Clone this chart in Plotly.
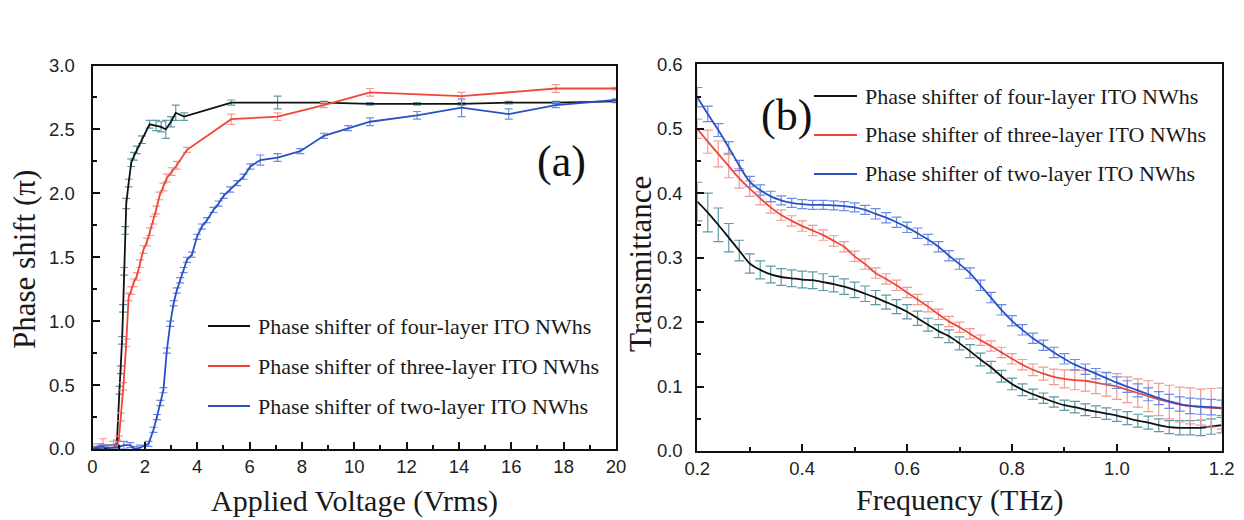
import plotly.graph_objects as go

# ---------------- Panel (a): phase shift vs applied voltage ----------------
volt_four = [0, 0.4, 0.8, 0.93, 1.03, 1.08, 1.13, 1.17, 1.21, 1.25, 1.29, 1.38, 1.48, 1.58, 1.69, 1.89,
             2.18, 2.43, 2.62, 2.80, 3.0, 3.18, 3.5, 5.3, 7.07, 8.84, 10.6, 12.4, 14.1, 15.9, 17.7, 20]
phase_four = [0.0, 0.0, 0.01, 0.04, 0.46, 0.62, 0.85, 1.10, 1.39, 1.71, 1.92, 2.08, 2.24, 2.29, 2.34, 2.42,
              2.54, 2.53, 2.52, 2.50, 2.56, 2.63, 2.60, 2.71, 2.71, 2.71, 2.70, 2.70, 2.70, 2.71, 2.71, 2.72]
err_four = [0.01, 0.01, 0.02, 0.03, 0.03, 0.03, 0.03, 0.03, 0.03, 0.03, 0.04, 0.03, 0.03, 0.03, 0.03, 0.03,
            0.03, 0.04, 0.04, 0.07, 0.04, 0.06, 0.03, 0.02, 0.05, 0.01, 0.01, 0.01, 0.01, 0.01, 0.01, 0.01]

volt_three = [0, 0.4, 0.8, 1.0, 1.08, 1.18, 1.29, 1.38, 1.48, 1.57, 1.69, 1.82, 1.95, 2.08, 2.2, 2.33,
              2.43, 2.56, 2.71, 2.84, 3.03, 3.22, 3.61, 5.3, 7.07, 8.84, 10.6, 14.1, 17.7, 20]
phase_three = [0.01, 0.03, 0.03, 0.06, 0.25, 0.49, 0.83, 1.19, 1.24, 1.30, 1.35, 1.45, 1.56, 1.62, 1.70, 1.79,
               1.87, 1.98, 2.05, 2.12, 2.17, 2.22, 2.34, 2.58, 2.60, 2.69, 2.79, 2.76, 2.82, 2.82]
err_three = [0.03, 0.05, 0.03, 0.04, 0.03, 0.03, 0.03, 0.03, 0.03, 0.03, 0.03, 0.03, 0.03, 0.03, 0.03, 0.03,
             0.03, 0.03, 0.03, 0.03, 0.03, 0.03, 0.02, 0.04, 0.03, 0.02, 0.03, 0.03, 0.03, 0.01]

volt_two = [0, 0.3, 0.6, 0.9, 1.2, 1.44, 1.6, 1.82, 2.14, 2.33, 2.46, 2.59, 2.71, 2.84, 2.97, 3.10, 3.22,
            3.35, 3.48, 3.61, 3.80, 3.99, 4.18, 4.37, 4.62, 4.82, 5.01, 5.26, 5.52, 5.77, 6.03, 6.41,
            7.07, 7.94, 8.84, 9.77, 10.6, 12.4, 14.1, 15.9, 17.7, 20]
phase_two = [0.0, 0.02, 0.01, 0.01, 0.03, 0.03, 0.0, 0.01, 0.04, 0.15, 0.25, 0.36, 0.46, 0.77, 0.98, 1.14, 1.24,
             1.32, 1.40, 1.48, 1.52, 1.66, 1.74, 1.79, 1.87, 1.92, 1.98, 2.03, 2.08, 2.13, 2.21, 2.26,
             2.28, 2.33, 2.45, 2.51, 2.56, 2.61, 2.67, 2.62, 2.69, 2.73]
err_two = [0.02, 0.02, 0.02, 0.02, 0.03, 0.02, 0.02, 0.02, 0.02, 0.02, 0.02, 0.02, 0.02, 0.02, 0.02, 0.02, 0.02,
           0.02, 0.02, 0.02, 0.02, 0.02, 0.02, 0.02, 0.02, 0.02, 0.02, 0.02, 0.02, 0.02, 0.02, 0.04,
           0.03, 0.02, 0.02, 0.02, 0.03, 0.03, 0.07, 0.04, 0.02, 0.01]

# ---------------- Panel (b): transmittance vs frequency ----------------
freq = [0.20, 0.22, 0.24, 0.26, 0.28, 0.30, 0.32, 0.34, 0.36, 0.38, 0.40, 0.42, 0.44, 0.46, 0.48,
        0.50, 0.52, 0.54, 0.56, 0.58, 0.60, 0.62, 0.64, 0.66, 0.68, 0.70, 0.72, 0.74, 0.76, 0.78,
        0.80, 0.82, 0.84, 0.86, 0.88, 0.90, 0.92, 0.94, 0.96, 0.98, 1.00, 1.02, 1.04, 1.06, 1.08,
        1.10, 1.12, 1.14, 1.16, 1.18, 1.20]

trans_four = [0.387, 0.370, 0.351, 0.331, 0.311, 0.291, 0.281, 0.274, 0.270, 0.268, 0.266, 0.265, 0.262, 0.259, 0.255,
              0.250, 0.244, 0.238, 0.231, 0.224, 0.216, 0.206, 0.196, 0.186, 0.178, 0.167, 0.155, 0.142, 0.130, 0.116,
              0.104, 0.095, 0.088, 0.082, 0.076, 0.071, 0.068, 0.064, 0.061, 0.058, 0.055, 0.051, 0.047, 0.044, 0.040,
              0.037, 0.036, 0.036, 0.036, 0.038, 0.040]
err_t_four = [0.030, 0.030, 0.026, 0.022, 0.016, 0.015, 0.014, 0.013, 0.013, 0.013, 0.013, 0.013, 0.013, 0.012, 0.012,
              0.012, 0.012, 0.011, 0.011, 0.011, 0.011, 0.011, 0.010, 0.010, 0.010, 0.010, 0.010, 0.010, 0.009, 0.009,
              0.009, 0.009, 0.008, 0.008, 0.008, 0.008, 0.009, 0.009, 0.009, 0.009, 0.009, 0.010, 0.010, 0.010, 0.010,
              0.010, 0.011, 0.011, 0.012, 0.012, 0.012]

trans_three = [0.500, 0.480, 0.461, 0.442, 0.423, 0.407, 0.392, 0.378, 0.366, 0.357, 0.349, 0.342, 0.335, 0.326, 0.317,
               0.302, 0.290, 0.276, 0.267, 0.257, 0.246, 0.235, 0.224, 0.212, 0.201, 0.192, 0.182, 0.172, 0.163, 0.153,
               0.143, 0.134, 0.126, 0.120, 0.115, 0.112, 0.110, 0.109, 0.106, 0.103, 0.100, 0.095, 0.090, 0.085, 0.080,
               0.076, 0.072, 0.070, 0.068, 0.067, 0.066]
err_t_three = [0.015, 0.018, 0.020, 0.018, 0.015, 0.012, 0.010, 0.009, 0.008, 0.008, 0.008, 0.008, 0.008, 0.008, 0.008,
               0.008, 0.008, 0.008, 0.008, 0.008, 0.008, 0.008, 0.008, 0.008, 0.008, 0.008, 0.008, 0.008, 0.008, 0.008,
               0.008, 0.008, 0.009, 0.010, 0.012, 0.014, 0.015, 0.016, 0.017, 0.018, 0.020, 0.020, 0.022, 0.024, 0.025,
               0.026, 0.027, 0.028, 0.028, 0.030, 0.032]

trans_two = [0.549, 0.523, 0.498, 0.471, 0.443, 0.418, 0.405, 0.395, 0.389, 0.385, 0.383, 0.382, 0.382, 0.381, 0.380,
             0.378, 0.374, 0.368, 0.362, 0.355, 0.347, 0.338, 0.328, 0.317, 0.303, 0.290, 0.276, 0.257, 0.238, 0.219,
             0.202, 0.188, 0.175, 0.164, 0.153, 0.143, 0.134, 0.127, 0.120, 0.113, 0.106, 0.100, 0.094, 0.088, 0.082,
             0.077, 0.073, 0.070, 0.069, 0.068, 0.067]
err_t_two = [0.015, 0.012, 0.010, 0.009, 0.008, 0.008, 0.008, 0.008, 0.007, 0.007, 0.007, 0.007, 0.007, 0.007, 0.007,
             0.007, 0.007, 0.008, 0.008, 0.008, 0.008, 0.008, 0.008, 0.008, 0.008, 0.008, 0.008, 0.008, 0.008, 0.008,
             0.008, 0.008, 0.008, 0.008, 0.008, 0.008, 0.008, 0.008, 0.008, 0.009, 0.009, 0.009, 0.010, 0.010, 0.010,
             0.011, 0.011, 0.012, 0.012, 0.012, 0.012]

legend_labels = ["Phase shifter of four-layer ITO NWhs",
                 "Phase shifter of three-layer ITO NWhs",
                 "Phase shifter of two-layer ITO NWhs"]
line_colors = ["#111111", "#f0463a", "#2b50c4"]
err_colors = ["#5f9aa6", "#f49a94", "#6a8ce6"]

W, H = 1244, 520
def px(x):
    return x / W
def py(y):
    return 1 - y / H

SERIF = "Liberation Serif, Times New Roman, serif"
SANS = "Liberation Sans, Arial, sans-serif"

fig = go.Figure()

panel_a = [(volt_four, phase_four, err_four), (volt_three, phase_three, err_three), (volt_two, phase_two, err_two)]
for i, (xs, ys, es) in enumerate(panel_a):
    fig.add_trace(go.Scatter(
        x=xs, y=ys, mode="lines", name=legend_labels[i], showlegend=False,
        line=dict(color=line_colors[i], width=1.8),
        error_y=dict(type="data", array=es, visible=True, color=err_colors[i], thickness=1.2, width=4),
        xaxis="x", yaxis="y"))

panel_b = [(trans_four, err_t_four), (trans_three, err_t_three), (trans_two, err_t_two)]
for i, (ys, es) in enumerate(panel_b):
    fig.add_trace(go.Scatter(
        x=freq, y=ys, mode="lines", name=legend_labels[i], showlegend=False,
        line=dict(color=line_colors[i], width=1.8, shape="spline", smoothing=1.0),
        error_y=dict(type="data", array=es, visible=True, color=err_colors[i], thickness=1.2, width=5),
        xaxis="x2", yaxis="y2"))

axis_common = dict(
    showline=True, linewidth=2, linecolor="#111111", mirror=True,
    showgrid=False, zeroline=False, automargin=False,
    ticks="inside", ticklen=7, tickwidth=1.5, tickcolor="#111111",
    tickfont=dict(family=SANS, size=18.5, color="#222222"),
)
minor_common = dict(ticks="inside", ticklen=4, tickwidth=1.5, tickcolor="#111111")

fig.update_layout(
    width=W, height=H, autosize=False,
    margin=dict(l=0, r=0, t=0, b=0, pad=0, autoexpand=False),
    paper_bgcolor="white", plot_bgcolor="white",
    showlegend=False,
    xaxis=dict(domain=[px(92.5), px(616)], range=[0, 20], tick0=0, dtick=2,
               minor=dict(dtick=1, **minor_common), anchor="y", ticklabelstandoff=0, **axis_common),
    yaxis=dict(domain=[py(449), py(65.5)], range=[0, 3.0], tick0=0, dtick=0.5, tickformat=".1f",
               minor=dict(dtick=0.25, **minor_common), anchor="x", ticklabelstandoff=12, **axis_common),
    xaxis2=dict(domain=[px(697.3), px(1221.7)], range=[0.2, 1.2], tick0=0.2, dtick=0.2, tickformat=".1f",
                minor=dict(dtick=0.1, **minor_common), anchor="y2", ticklabelstandoff=0, **axis_common),
    yaxis2=dict(domain=[py(451), py(64.3)], range=[0, 0.6], tick0=0, dtick=0.1, tickformat=".1f",
                minor=dict(dtick=0.05, **minor_common), anchor="x2", ticklabelstandoff=9, **axis_common),
)

annotations = []
shapes = []

# axis titles
title_font = dict(family=SERIF, size=30, color="#1a1a1a")
annotations.append(dict(text="Applied Voltage (Vrms)", x=px(354), y=py(501), xref="paper", yref="paper",
                        showarrow=False, font=title_font, xanchor="center", yanchor="middle"))
annotations.append(dict(text="Phase shift (\u03c0)", x=px(24), y=py(260), xref="paper", yref="paper",
                        showarrow=False, textangle=-90, font=dict(family=SERIF, size=31, color="#1a1a1a"),
                        xanchor="center", yanchor="middle"))
annotations.append(dict(text="Frequency (THz)", x=px(960), y=py(500), xref="paper", yref="paper",
                        showarrow=False, font=title_font, xanchor="center", yanchor="middle"))
annotations.append(dict(text="Transmittance", x=px(640), y=py(264), xref="paper", yref="paper",
                        showarrow=False, textangle=-90, font=dict(family=SERIF, size=31, color="#1a1a1a"),
                        xanchor="center", yanchor="middle"))

# panel labels
label_font = dict(family=SERIF, size=44, color="#111111")
annotations.append(dict(text="(a)", x=px(561), y=py(161), xref="paper", yref="paper", showarrow=False,
                        font=label_font, xanchor="center", yanchor="middle"))
annotations.append(dict(text="(b)", x=px(787), y=py(116), xref="paper", yref="paper", showarrow=False,
                        font=label_font, xanchor="center", yanchor="middle"))

# legends (drawn as keys)
legend_a_rows = [326, 366, 406]
legend_b_rows = [96, 135, 174]
legend_font = dict(family=SERIF, size=22, color="#1a1a1a")
for i in range(3):
    ya = legend_a_rows[i]
    shapes.append(dict(type="line", xref="paper", yref="paper", x0=px(208), x1=px(250), y0=py(ya), y1=py(ya),
                       line=dict(color=line_colors[i], width=2)))
    annotations.append(dict(text=legend_labels[i], x=px(256), y=py(ya), xref="paper", yref="paper",
                            showarrow=False, font=legend_font, xanchor="left", yanchor="middle"))
    yb = legend_b_rows[i]
    shapes.append(dict(type="line", xref="paper", yref="paper", x0=px(814), x1=px(857), y0=py(yb), y1=py(yb),
                       line=dict(color=line_colors[i], width=2)))
    annotations.append(dict(text=legend_labels[i], x=px(863), y=py(yb), xref="paper", yref="paper",
                            showarrow=False, font=legend_font, xanchor="left", yanchor="middle"))

fig.update_layout(annotations=annotations, shapes=shapes)

fig.write_html("out.html")
